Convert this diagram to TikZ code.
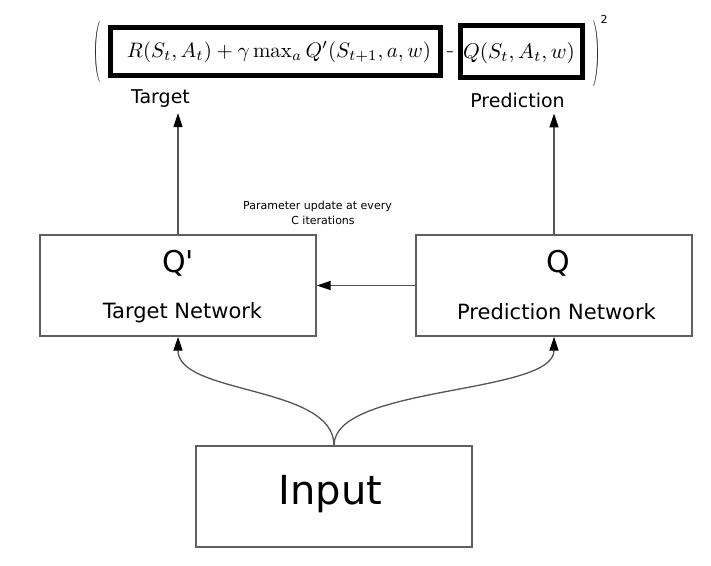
\documentclass[tikz,border=0pt]{standalone}
\usepackage{fontspec}
\newfontfamily\dv{DejaVu Sans}
\usetikzlibrary{arrows.meta}
\definecolor{linegray}{RGB}{85,85,85}
\definecolor{boxgray}{RGB}{95,95,95}
\tikzset{
  netbox/.style={draw=boxgray, line width=1.4pt, minimum width=276pt, minimum height=101pt, inner sep=0pt},
  fbox/.style={draw=black, line width=5pt, inner sep=0pt},
  txt/.style={anchor=base, inner sep=0pt},
  arr/.style={draw=linegray, line width=1.3pt, -{Triangle[length=14pt,width=9pt,color=black]}},
}
\newcommand{\dvsize}[1]{\dv\fontsize{#1}{#1}\selectfont}
\begin{document}
\begin{tikzpicture}[x=1pt,y=-1pt]
\useasboundingbox (0,0) rectangle (711,565);
\fill[white] (0,0) rectangle (711,565);

% formula boxes
\node[fbox, minimum width=330pt, minimum height=48pt] (fb1) at (275.5,51.5) {};
\node[fbox, minimum width=122pt, minimum height=52pt] (fb2) at (521.5,51.5) {};
\node[txt] (f1) at (279,57.5) {\resizebox{304pt}{!}{$R(S_t, A_t) + \gamma \max_a Q'(S_{t+1}, a, w)$}};
\node[txt] (f2) at (519,58) {\resizebox{112pt}{!}{$Q(S_t, A_t, w)$}};
\node[inner sep=0pt] (minus) at (450,52) {\scalebox{1}[2.5]{$-$}};
\node[inner sep=0pt] (lp) at (96.5,52.5) {\resizebox*{7pt}{61pt}{$\Bigg($}};
\node[inner sep=0pt] (rp) at (596.5,54) {\resizebox*{7pt}{66pt}{$\Bigg)$}};
\node[inner sep=0pt, font=\dvsize{11}] (sq) at (604,19) {2};

% labels
\node[anchor=base, inner sep=6pt, font=\dvsize{19}] (tlabel) at (160.5,103) {Target};
\node[anchor=base, inner sep=6pt, font=\dvsize{19}] (plabel) at (517.5,107) {Prediction};

% networks
\node[netbox] (tnet) at (178,285.5) {};
\node[netbox] (pnet) at (554,285.5) {};
\node[netbox] (inp) at (334,496.5) {};

\node[txt, font=\dvsize{30}] (tq) at (178,272) {Q\textquotesingle};
\node[txt, font=\dvsize{21}] (tname) at (182.5,318) {Target Network};
\node[txt, font=\dvsize{30}] (pq) at (558,272) {Q};
\node[txt, font=\dvsize{21}] (pname) at (556.5,319) {Prediction Network};
\node[txt, font=\dvsize{40}] (itxt) at (330.5,504) {Input};

\node[txt, font=\dvsize{11}] (up1) at (317.5,209) {Parameter update at every};
\node[txt, font=\dvsize{11}] (up2) at (323,224) {C iterations};

% connectors
\draw[arr] (tnet.north) -- (tnet.north |- tlabel.south);
\draw[arr] (pnet.north) -- (pnet.north |- plabel.south);
\draw[arr] (pnet.west) -- (tnet.east);
\draw[arr] (inp.north) .. controls (334,385) and (178,395) .. (tnet.south);
\draw[arr] (inp.north) .. controls (334,385) and (554,395) .. (pnet.south);
\end{tikzpicture}
\end{document}
